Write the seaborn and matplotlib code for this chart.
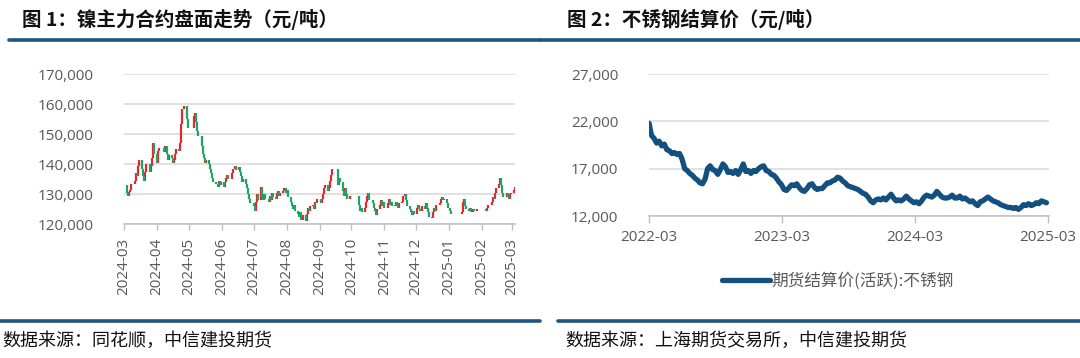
import numpy as np
import pandas as pd
import seaborn as sns
import matplotlib.pyplot as plt
import matplotlib.dates as mdates
from matplotlib.lines import Line2D
from matplotlib.ticker import FuncFormatter

sns.set_theme(style='white')
plt.rcParams['font.family'] = ['Open Sans', 'Noto Sans CJK SC', 'DejaVu Sans']

# ---- data -------------------------------------------------------------
# nickel main contract daily close, one row per week (Mon..Fri), None = no trading
ni_first_monday = '2024-02-26'
ni_close_weeks = [
    [None, None, None, None, 133000],
    [130500, 129500, 130800, 131500, 133500],
    [134500, 137000, 136000, 139500, 141500],
    [138500, 136000, 134500, 137500, 140000],
    [137500, 139500, 142000, 147000, 143500],
    [140500, 144500, 145500, None, None],
    [144000, 146000, 143500, 141500, 143000],
    [142000, 140500, 141500, 143500, 145000],
    [144500, 147000, 153500, 158500, 159500],
    [155000, 152000, None, None, None],
    [156000, 157000, 154000, 151000, 149500],
    [146000, 143500, 142000, 140500, 141500],
    [140000, 138500, 137000, 135500, 134000],
    [133500, 132500, 134500, 133000, 134000],
    [132500, 134000, 135500, 136500, 135000],
    [None, 137000, 138500, 139500, 138000],
    [139000, 137500, 136000, 134000, 135000],
    [133500, 132000, 130000, 128500, 127000],
    [126000, 124500, 127500, 130000, 128000],
    [132500, 129000, 128000, 130000, 128500],
    [127500, 129500, 128000, 130500, 129000],
    [128500, 130500, 131000, 129500, 130500],
    [131000, 132000, 130500, 131500, 129000],
    [127500, 126000, 125000, 126500, 124500],
    [123500, 122500, 124000, 121500, 123000],
    [121000, 123500, 125500, 124500, 126000],
    [126500, 125000, 127500, 127000, 128500],
    [127000, 128500, 130000, 132000, 133000],
    [131000, 132000, 134500, 136500, 138500],
    [None, None, 133000, 135500, 134000],
    [131000, 129500, 132000, 130000, 128500],
    [129500, None, None, None, None],
    [None, 126500, 124500, 125500, 124000],
    [125500, 127500, 129500, 130500, 128000],
    [127000, 125500, 124500, 123000, 125000],
    [126500, 128000, 126000, 127500, 125500],
    [127000, 128500, 126500, 127500, 126000],
    [126500, 127500, 126000, 125500, 127000],
    [127500, 129500, 130000, 128000, 126000],
    [125000, 124000, 123000, 124500, 123500],
    [125500, 126500, 125000, 124500, 126000],
    [125000, 127000, 125500, 124000, 122500],
    [122000, 124000, 125500, 124500, 126500],
    [127000, 128500, 129000, 128000, 128500],
    [127000, 125500, None, 124500, 123500],
    [None, None, None, None, None],
    [124000, 127500, 128500, 126000, 125000],
    [124500, 125500, 124000, 125000, 124500],
    [125000, None, None, None, None],
    [None, None, 124500, 125500, 126500],
    [127500, 129000, 128500, 130500, 132000],
    [133500, 135500, 133000, 130500, 129000],
    [130500, 129000, 128500, 130000, 130500],
    [131500, 132500, None, None, None],
]

# stainless steel settlement price (active contract), weekly readings
ss_start = '2022-03-01'
ss_price = [
    21800, 20500, 20200, 19700, 19900, 19400, 19600, 19000, 18900, 18600,
    18700, 18500, 18600, 18000, 17000, 16800, 16500, 16300, 16000, 15800,
    15500, 15400, 15900, 17000, 17300, 16900, 16800, 16400, 16900, 17500,
    17200, 16600, 16700, 16500, 16800, 16400, 16900, 17500, 16700, 16800,
    16500, 16800, 16700, 17000, 17200, 17300, 16800, 16700, 16400, 16300,
    16000, 15600, 15300, 14800, 14700, 15000, 15300, 15200, 15400, 15000,
    14700, 14600, 14900, 15300, 15400, 15000, 14800, 14900, 14900, 15200,
    15500, 15500, 15700, 15800, 16100, 16000, 15700, 15500, 15200, 15100,
    15000, 14900, 14800, 14600, 14400, 14300, 14000, 13600, 13400, 13700,
    13800, 13700, 13900, 13700, 14000, 14300, 13900, 13600, 13700, 13600,
    13800, 14100, 13800, 13600, 13400, 13500, 13300, 13600, 14000, 14200,
    14100, 14000, 14200, 14600, 14300, 14000, 13900, 13900, 14000, 14200,
    13900, 13900, 14100, 13800, 13900, 13700, 13500, 13600, 13300, 13100,
    13500, 13600, 13800, 14000, 13800, 13600, 13500, 13400, 13200, 13100,
    13000, 12900, 12900, 12800, 12900, 12700, 12900, 13200, 13100, 13300,
    13100, 13200, 13400, 13300, 13600, 13500, 13400,
]
ss_label = '期货结算价(活跃):不锈钢'

# ---- styling ----------------------------------------------------------
RED = '#E2282E'
GREEN = '#1FA463'
BLUE = '#14507F'
BAR = '#1F5580'
GRID = '#D9D9D9'
TXT = '#595959'
CJK = ['Noto Sans CJK SC', 'DejaVu Sans']

fig = plt.figure(figsize=(10.8, 3.58), dpi=100)
ax1 = fig.add_axes([124 / 1080, 1 - 224 / 358, 391 / 1080, 150 / 358])
ax2 = fig.add_axes([649 / 1080, 1 - 216 / 358, 400 / 1080, 142 / 358])

# ---- left: candles ----------------------------------------------------
flat = [v for wk in ni_close_weeks for v in wk]
ni_dates = pd.bdate_range(ni_first_monday, periods=len(flat))
ni = pd.DataFrame({'date': ni_dates, 'close': flat}).dropna()
ni['open'] = ni['close'].shift(1).fillna(ni['close'])
up = ni['close'] >= ni['open']
ax1.vlines(ni.loc[up, 'date'], ni.loc[up, 'open'], ni.loc[up, 'close'], color=RED, lw=1.6)
ax1.vlines(ni.loc[~up, 'date'], ni.loc[~up, 'open'], ni.loc[~up, 'close'], color=GREEN, lw=1.6)

ax1.set_ylim(120000, 170000)
ax1.set_yticks(range(120000, 170001, 10000))
ax1.set_xlim(pd.Timestamp('2024-03-01'), pd.Timestamp('2025-03-04'))
ax1.set_xticks(pd.date_range('2024-03-01', '2025-03-01', freq='MS'))
ax1.xaxis.set_major_formatter(mdates.DateFormatter('%Y-%m'))
for lab in ax1.get_xticklabels():
    lab.set_rotation(90)
ax1.tick_params(axis='x', bottom=True, length=4, width=1, color='#BFBFBF',
                direction='out', pad=6, labelsize=11, labelcolor=TXT)
ax1.tick_params(axis='y', left=False, pad=16, labelsize=11, labelcolor=TXT)

# ---- right: line ------------------------------------------------------
ss = pd.DataFrame({'date': pd.date_range(ss_start, periods=len(ss_price), freq='7D'),
                   'price': ss_price})
sns.lineplot(data=ss, x='date', y='price', ax=ax2, color=BLUE, lw=3.8,
             solid_joinstyle='round', solid_capstyle='round', legend=False)
ax2.set_ylim(12000, 27000)
ax2.set_yticks(range(12000, 27001, 5000))
ax2.set_xlim(pd.Timestamp('2022-03-01'), pd.Timestamp('2025-03-04'))
ax2.set_xticks(pd.to_datetime(['2022-03-01', '2023-03-01', '2024-03-01', '2025-03-01']))
ax2.xaxis.set_major_formatter(mdates.DateFormatter('%Y-%m'))
ax2.tick_params(axis='x', bottom=True, length=5, width=1, color='#BFBFBF',
                direction='out', pad=5, labelsize=11, labelcolor=TXT)
ax2.tick_params(axis='y', left=False, pad=16, labelsize=11, labelcolor=TXT)
ax2.set_xlabel('')
ax2.set_ylabel('')

for ax in (ax1, ax2):
    ax.yaxis.set_major_formatter(FuncFormatter(lambda v, p: f'{v:,.0f}'))
    ax.grid(axis='y', color=GRID, lw=1.1)
    ax.grid(axis='x', visible=False)
    for s in ('top', 'right', 'left'):
        ax.spines[s].set_visible(False)
    ax.spines['bottom'].set_color('#BFBFBF')
    ax.spines['bottom'].set_linewidth(1.1)
    ax.set_axisbelow(True)

leg = ax2.legend(handles=[Line2D([], [], color=BLUE, lw=3.8, solid_capstyle='round', label=ss_label)],
                 loc='center', bbox_to_anchor=(838 / 1080, 1 - 281 / 358),
                 bbox_transform=fig.transFigure, frameon=False,
                 handlelength=2.9, handletextpad=0.1, prop={'family': CJK, 'size': 12})
for t in leg.get_texts():
    t.set_color(TXT)

# ---- titles, rules, sources -------------------------------------------
fig.text(22 / 1080, 1 - 19 / 358, '图 1：镍主力合约盘面走势（元/吨）', fontsize=14,
         fontweight='bold', family=CJK, va='center', color='#111111')
fig.text(567 / 1080, 1 - 19 / 358, '图 2：不锈钢结算价（元/吨）', fontsize=14,
         fontweight='bold', family=CJK, va='center', color='#111111')
for x0, x1 in ((9, 540), (540, 1080)):
    fig.add_artist(Line2D([x0 / 1080, x1 / 1080], [1 - 40 / 358] * 2, color=BAR, lw=2.6))
for x0, x1 in ((0, 540), (558, 1080)):
    fig.add_artist(Line2D([x0 / 1080, x1 / 1080], [1 - 321 / 358] * 2, color=BAR, lw=2.6))
fig.text(2 / 1080, 1 - 341 / 358, '数据来源：同花顺，中信建投期货', fontsize=13,
         style='italic', family=CJK, va='center', color='#111111')
fig.text(565 / 1080, 1 - 341 / 358, '数据来源：上海期货交易所，中信建投期货', fontsize=13,
         style='italic', family=CJK, va='center', color='#111111')

fig.savefig('out.png', dpi=100)
